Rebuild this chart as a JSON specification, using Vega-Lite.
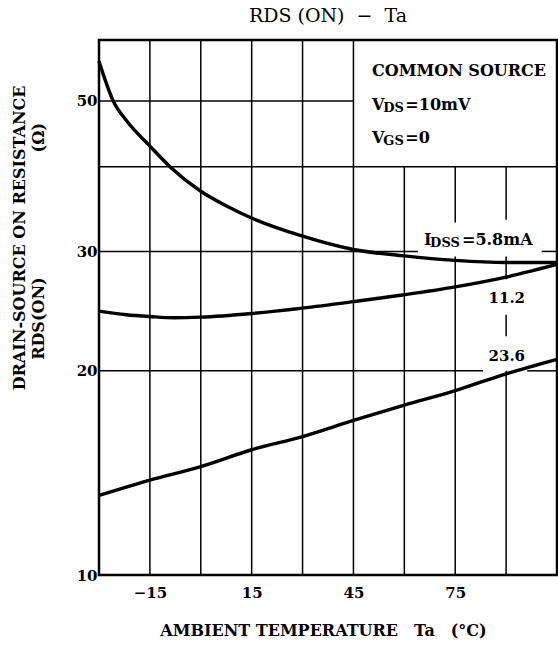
{
  "$schema": "https://vega.github.io/schema/vega-lite/v6.json",
  "width": 458,
  "height": 535,
  "autosize": {"type": "none"},
  "padding": {"left": 99, "top": 40, "right": 1, "bottom": 71},
  "background": "white",
  "config": {"view": {"stroke": "black", "strokeWidth": 2.5}, "font": "DejaVu Serif"},
  "title": {"text": "RDS (ON)\u00a0\u00a0−\u00a0\u00a0Ta", "fontSize": 19, "fontWeight": "normal", "font": "DejaVu Serif", "color": "black", "offset": 13},
  "datasets": {
    "grid": [
      {"x": -15, "x2": -15, "y": 10, "y2": 61.5},
      {"x": 0, "x2": 0, "y": 10, "y2": 61.5},
      {"x": 15, "x2": 15, "y": 10, "y2": 61.5},
      {"x": 30, "x2": 30, "y": 10, "y2": 61.5},
      {"x": 45, "x2": 45, "y": 10, "y2": 61.5},
      {"x": 60, "x2": 60, "y": 10, "y2": 40},
      {"x": 75, "x2": 75, "y": 10, "y2": 29.5},
      {"x": 75, "x2": 75, "y": 33.1, "y2": 40},
      {"x": 90, "x2": 90, "y": 10, "y2": 20},
      {"x": 90, "x2": 90, "y": 22.5, "y2": 24.2},
      {"x": 90, "x2": 90, "y": 27.3, "y2": 29.5},
      {"x": 90, "x2": 90, "y": 33.4, "y2": 40},
      {"x": -30, "x2": 83.2, "y": 20, "y2": 20},
      {"x": 96.2, "x2": 105, "y": 20, "y2": 20},
      {"x": -30, "x2": 64, "y": 30, "y2": 30},
      {"x": 100.5, "x2": 105, "y": 30, "y2": 30},
      {"x": -30, "x2": 105, "y": 40, "y2": 40},
      {"x": -30, "x2": 45, "y": 50, "y2": 50}
    ],
    "curves": [
      {"series": "5.8", "x": -30, "y": 57.2},
      {"series": "5.8", "x": -25.8, "y": 50},
      {"series": "5.8", "x": -21.8, "y": 46.7},
      {"series": "5.8", "x": -15, "y": 42.9},
      {"series": "5.8", "x": -9.1, "y": 40},
      {"series": "5.8", "x": 0, "y": 36.8},
      {"series": "5.8", "x": 7.6, "y": 35.0},
      {"series": "5.8", "x": 15, "y": 33.6},
      {"series": "5.8", "x": 30, "y": 31.6},
      {"series": "5.8", "x": 45, "y": 30.2},
      {"series": "5.8", "x": 60, "y": 29.55},
      {"series": "5.8", "x": 75, "y": 29.1},
      {"series": "5.8", "x": 90, "y": 28.9},
      {"series": "5.8", "x": 105, "y": 28.9},
      {"series": "11.2", "x": -30, "y": 24.5},
      {"series": "11.2", "x": -22, "y": 24.2},
      {"series": "11.2", "x": -15, "y": 24.05},
      {"series": "11.2", "x": -8, "y": 23.95},
      {"series": "11.2", "x": 0, "y": 24.0},
      {"series": "11.2", "x": 15, "y": 24.3},
      {"series": "11.2", "x": 30, "y": 24.75},
      {"series": "11.2", "x": 45, "y": 25.3},
      {"series": "11.2", "x": 60, "y": 25.9},
      {"series": "11.2", "x": 75, "y": 26.6},
      {"series": "11.2", "x": 90, "y": 27.5},
      {"series": "11.2", "x": 105, "y": 28.7},
      {"series": "23.6", "x": -30, "y": 13.1},
      {"series": "23.6", "x": -15, "y": 13.8},
      {"series": "23.6", "x": 0, "y": 14.45},
      {"series": "23.6", "x": 15, "y": 15.3},
      {"series": "23.6", "x": 30, "y": 16.0},
      {"series": "23.6", "x": 45, "y": 16.9},
      {"series": "23.6", "x": 60, "y": 17.8},
      {"series": "23.6", "x": 75, "y": 18.7},
      {"series": "23.6", "x": 90, "y": 19.8},
      {"series": "23.6", "x": 105, "y": 20.8}
    ],
    "mainText": [
      {"label": "COMMON SOURCE", "x": 50.5, "y": 55.3},
      {"label": "V", "x": 50.5, "y": 49.4},
      {"label": "=10mV", "x": 60.3, "y": 49.4},
      {"label": "V", "x": 50.5, "y": 44.1},
      {"label": "=0", "x": 60.3, "y": 44.1},
      {"label": "I", "x": 65.8, "y": 31.2},
      {"label": "=5.8mA", "x": 77.0, "y": 31.2}
    ],
    "subText": [
      {"label": "DS", "x": 53.8, "y": 49.4},
      {"label": "GS", "x": 53.8, "y": 44.1},
      {"label": "DSS", "x": 67.6, "y": 31.2}
    ],
    "curveText": [
      {"label": "11.2", "x": 90.2, "y": 25.6},
      {"label": "23.6", "x": 90.2, "y": 21.05}
    ]
  },
  "encoding": {
    "x": {
      "field": "x", "type": "quantitative",
      "scale": {"domain": [-30, 105], "nice": false, "zero": false},
      "axis": {
        "values": [-15, 15, 45, 75], "grid": false, "ticks": false, "domain": false,
        "labelFont": "DejaVu Serif", "labelFontWeight": "bold", "labelFontSize": 15, "labelColor": "black", "labelPadding": 10,
        "title": "AMBIENT TEMPERATURE\u2003Ta\u2003(°C)",
        "titleFont": "DejaVu Serif", "titleFontWeight": "bold", "titleFontSize": 16, "titleColor": "black",
        "titleY": 47, "titleBaseline": "top", "titleX": 224
      }
    },
    "y": {
      "field": "y", "type": "quantitative",
      "scale": {"type": "log", "domain": [10, 61.5], "nice": false},
      "axis": {
        "values": [10, 20, 30, 50], "grid": false, "ticks": false, "domain": false,
        "labelFont": "DejaVu Serif", "labelFontWeight": "bold", "labelFontSize": 15, "labelColor": "black", "labelPadding": 2,
        "title": ["DRAIN-SOURCE ON RESISTANCE", "RDS(ON)\u2800\u2800\u2800\u2800\u2800\u2800\u2800\u2800\u2800\u2800(Ω)\u2800\u2800\u2800"],
        "titleFont": "DejaVu Serif", "titleFontWeight": "bold", "titleFontSize": 16, "titleColor": "black",
        "titleAlign": "right", "titleBaseline": "bottom", "titleAngle": -90,
        "titleX": -72, "titleY": 45, "titleLineHeight": 19
      }
    }
  },
  "layer": [
    {
      "data": {"name": "grid"},
      "mark": {"type": "rule", "color": "black", "strokeWidth": 1.5},
      "encoding": {
        "x2": {"field": "x2"},
        "y2": {"field": "y2"}
      }
    },
    {
      "data": {"name": "curves"},
      "mark": {"type": "line", "color": "black", "strokeWidth": 3.4, "interpolate": "monotone"},
      "encoding": {
        "detail": {"field": "series"}
      }
    },
    {
      "data": {"name": "mainText"},
      "mark": {"type": "text", "align": "left", "baseline": "middle", "font": "DejaVu Serif", "fontWeight": "bold", "fontSize": 16, "color": "black"},
      "encoding": {
        "text": {"field": "label"}
      }
    },
    {
      "data": {"name": "subText"},
      "mark": {"type": "text", "align": "left", "baseline": "middle", "font": "DejaVu Serif", "fontWeight": "bold", "fontSize": 13, "dy": 3, "color": "black"},
      "encoding": {
        "text": {"field": "label"}
      }
    },
    {
      "data": {"name": "curveText"},
      "mark": {"type": "text", "align": "center", "baseline": "middle", "font": "DejaVu Serif", "fontWeight": "bold", "fontSize": 15, "color": "black"},
      "encoding": {
        "text": {"field": "label"}
      }
    }
  ]
}
